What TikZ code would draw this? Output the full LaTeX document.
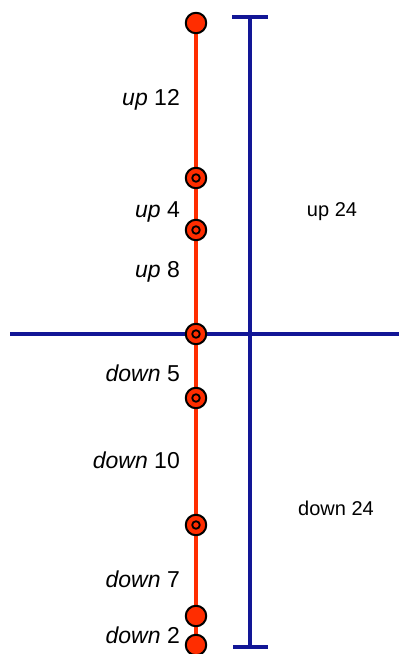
\documentclass[tikz,border=0pt]{standalone}
\usepackage{fontspec}
\setmainfont{Liberation Sans}
\usetikzlibrary{backgrounds}
\definecolor{ptred}{RGB}{255,45,0}
\definecolor{axblue}{RGB}{18,22,150}
\tikzset{
  stop/.style={circle,draw=black,fill=ptred,line width=2pt,minimum size=20.5pt,inner sep=0pt},
  walk/.style={font=\fontsize{23}{26}\selectfont,anchor=base east,inner sep=0pt},
  total/.style={font=\fontsize{20}{24}\selectfont,anchor=base,inner sep=0pt}
}
\begin{document}
\begin{tikzpicture}[x=1pt,y=-1pt,line join=round,line cap=round]
	\useasboundingbox (0,0) rectangle (399,654);
	% stops along the walk
	\foreach \n/\y in {p1/23,p2/178,p3/230,p4/334,p5/398,p6/525,p7/616,p8/645}
	\node[stop] (\n) at (196,\y) {};
	\foreach \n in {p2,p3,p4,p5,p6}
	\draw[line width=1.8pt] (\n) circle (3.8pt);
	\begin{pgfonlayer}{background}
		\draw[ptred,line width=4pt] (p1)--(p2)--(p3)--(p4)--(p5)--(p6)--(p7)--(p8);
		% axis and total bar
		\coordinate (axl) at (10,334);
		\coordinate (axr) at (399,334);
		\coordinate (bt) at (250,17);
		\coordinate (bb) at (250,647);
		\draw[axblue,line width=4pt,line cap=butt] (axl)--(axr);
		\draw[axblue,line width=4pt] (bt)--(bb);
		\draw[axblue,line width=4pt] ([xshift=-18pt]bt)--([xshift=18pt]bt);
		\draw[axblue,line width=4pt] ([xshift=-17pt]bb)--([xshift=18pt]bb);
	\end{pgfonlayer}
	% labels of the steps
	\node[walk] (l1) at (180,105) {\textit{up} 12};
	\node[walk] (l2) at (180,217) {\textit{up} 4};
	\node[walk] (l3) at (180,277) {\textit{up} 8};
	\node[walk] (l4) at (180,381) {\textit{down} 5};
	\node[walk] (l5) at (180,468) {\textit{down} 10};
	\node[walk] (l6) at (180,587) {\textit{down} 7};
	\node[walk] (l7) at (180,643) {\textit{down} 2};
	\node[total] (t1) at (332,216) {up 24};
	\node[total] (t2) at (336,515) {down 24};
\end{tikzpicture}
\end{document}
